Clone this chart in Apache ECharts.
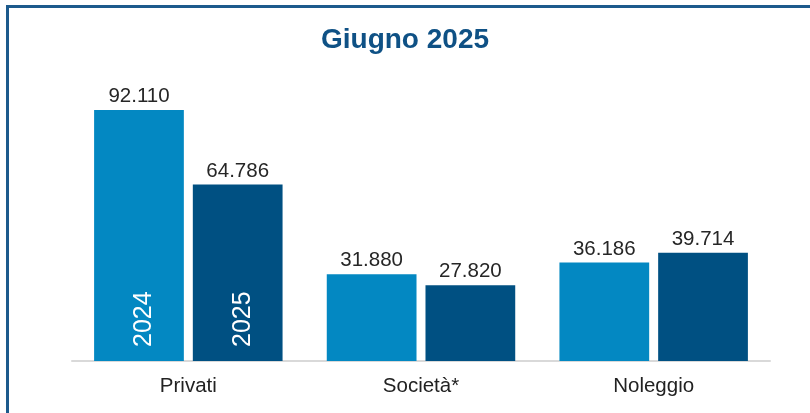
<!DOCTYPE html>
<html>
<head>
<meta charset="utf-8">
<script src="https://cdn.jsdelivr.net/npm/echarts@6/dist/echarts.min.js"></script>
<style>
  html, body { margin: 0; padding: 0; background: #fff; }
  #chart { width: 810px; height: 413px; }
</style>
</head>
<body>
<div id="chart"></div>
<script>
var categories = ["Privati", "Società*", "Noleggio"];
var years = ["2024", "2025"];
var values2024 = [92110, 31880, 36186];
var values2025 = [64786, 27820, 39714];

// formato italiano: 92110 -> 92.110
function fmt(v) {
  return String(v).replace(/\B(?=(\d{3})+(?!\d))/g, ".");
}

var colors = ["#0388c2", "#005082"];

// barre trasparenti sul secondo asse, solo per l'etichetta dell'anno
function yearSeries(vals, i) {
  return {
    name: years[i] + "-label",
    type: "bar",
    xAxisIndex: 1,
    barGap: "10%",
    barCategoryGap: "19%",
    silent: true,
    itemStyle: { color: "transparent" },
    data: vals.map(function(v, k) {
      return k === 0 ? v : "-";
    }),
    label: {
      show: true,
      position: "insideBottom",
      distance: 14,
      rotate: 90,
      align: "left",
      verticalAlign: "middle",
      offset: [0, 5],
      color: "#fff",
      fontSize: 25,
      fontFamily: "Liberation Sans",
      formatter: function() { return years[i]; }
    }
  };
}

function valueSeries(vals, i) {
  return {
    name: years[i],
    type: "bar",
    barGap: "10%",
    barCategoryGap: "19%",
    data: vals,
    itemStyle: { color: colors[i] },
    label: {
      show: true,
      position: "top",
      distance: 3,
      color: "#262626",
      fontSize: 20.5,
      fontFamily: "Liberation Sans",
      formatter: function(p) { return fmt(p.value); }
    }
  };
}

var myChart = echarts.init(document.getElementById("chart"));
myChart.setOption({
  animation: false,
  title: {
    text: "Giugno 2025",
    left: "center",
    top: 21,
    textStyle: {
      color: "#0f5185",
      fontSize: 28,
      fontWeight: "bold",
      fontFamily: "Liberation Sans"
    }
  },
  graphic: [
    {
      type: "rect",
      shape: { x: 7.5, y: 6.5, width: 830, height: 440 },
      style: { fill: "none", stroke: "#1d5a8c", lineWidth: 3 },
      silent: true
    }
  ],
  grid: { left: 72, right: 40, top: 88.5, bottom: 52 },
  xAxis: [
    {
      type: "category",
      data: categories,
      axisLine: { lineStyle: { color: "#d9d9d9", width: 2 } },
      axisTick: { show: false },
      axisLabel: {
        color: "#222",
        fontSize: 20.5,
        fontFamily: "Liberation Sans",
        margin: 15
      }
    },
    {
      type: "category",
      data: categories,
      show: false
    }
  ],
  yAxis: {
    type: "value",
    min: 0,
    max: 100000,
    show: false,
    splitLine: { show: false }
  },
  series: [
    valueSeries(values2024, 0),
    valueSeries(values2025, 1),
    yearSeries(values2024, 0),
    yearSeries(values2025, 1)
  ]
});
</script>
</body>
</html>
